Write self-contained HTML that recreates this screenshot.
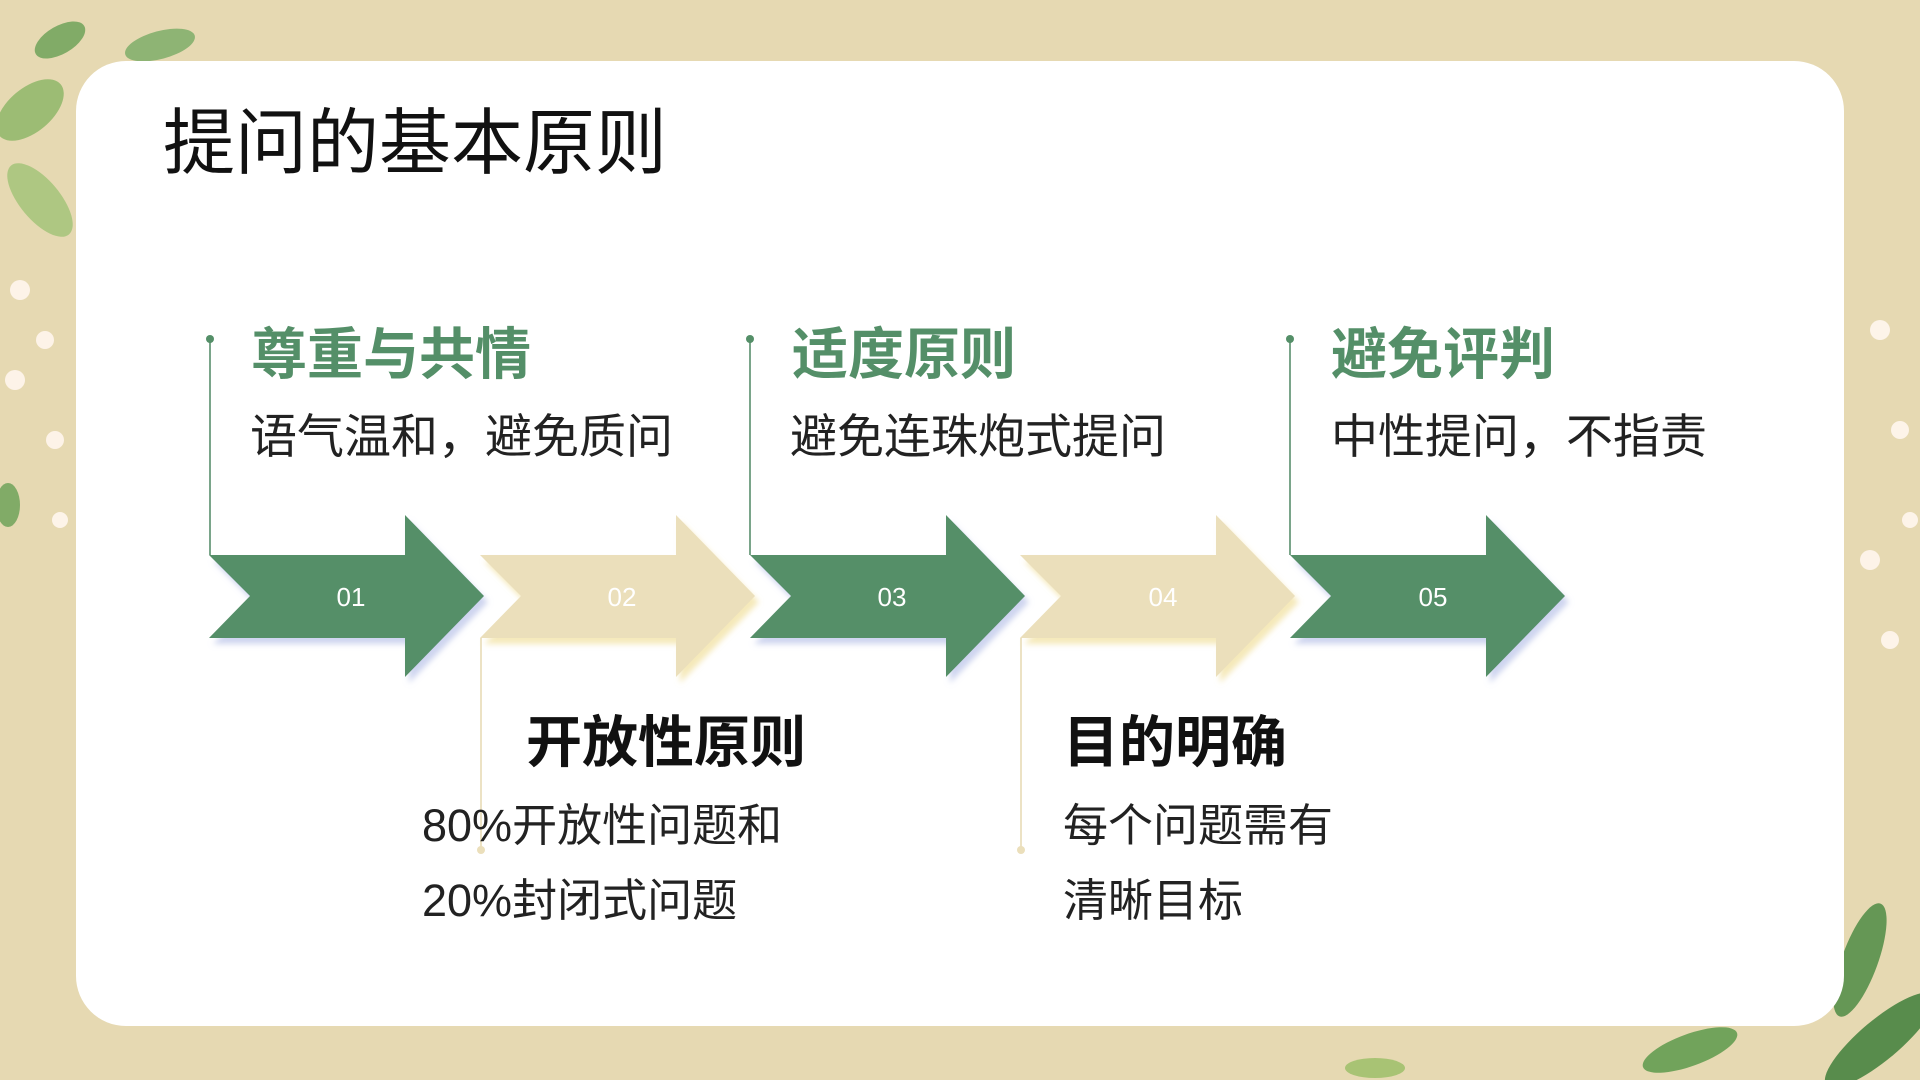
<!DOCTYPE html>
<html><head><meta charset="utf-8"><style>
body{margin:0;width:1920px;height:1080px;overflow:hidden;background:#e6d9b2;font-family:"Liberation Sans","Noto Sans CJK SC",sans-serif;position:relative}
.card{position:absolute;left:76px;top:61px;width:1768px;height:965px;background:#fff;border-radius:50px}
.t{position:absolute;white-space:nowrap;line-height:1}
.h{color:#548f68;font-weight:bold;font-size:56px}
.s{color:#222;font-size:47px}
.s2{color:#222;font-size:45px}
.b{color:#111;font-weight:bold;font-size:56px}
</style></head><body>
<svg style="position:absolute;left:0;top:0" width="1920" height="1080">
<g opacity="0.85">
<ellipse cx="30" cy="110" rx="40" ry="22" fill="#8fb86a" transform="rotate(-40 30 110)"/>
<ellipse cx="60" cy="40" rx="28" ry="14" fill="#6fa35a" transform="rotate(-30 60 40)"/>
<ellipse cx="160" cy="45" rx="36" ry="14" fill="#7fae6a" transform="rotate(-15 160 45)"/>
<ellipse cx="40" cy="200" rx="45" ry="20" fill="#a5c57a" transform="rotate(50 40 200)"/>
<ellipse cx="1860" cy="960" rx="60" ry="18" fill="#4f8c45" transform="rotate(-70 1860 960)"/>
<ellipse cx="1880" cy="1040" rx="70" ry="20" fill="#3f7f3a" transform="rotate(-40 1880 1040)"/>
<ellipse cx="1690" cy="1050" rx="50" ry="16" fill="#5d9a4c" transform="rotate(-20 1690 1050)"/>
<ellipse cx="1375" cy="1068" rx="30" ry="10" fill="#9dc06a"/>
<ellipse cx="8" cy="505" rx="12" ry="22" fill="#6fa35a"/>
</g>
<g fill="#fff6ee" opacity="0.9">
<circle cx="20" cy="290" r="10"/><circle cx="45" cy="340" r="9"/><circle cx="15" cy="380" r="10"/><circle cx="55" cy="440" r="9"/><circle cx="60" cy="520" r="8"/>
<circle cx="1880" cy="330" r="10"/><circle cx="1900" cy="430" r="9"/><circle cx="1870" cy="560" r="10"/><circle cx="1890" cy="640" r="9"/><circle cx="1910" cy="520" r="8"/>
</g>
</svg>
<div class="card"></div>
<div class="t" style="left:163px;top:108px;font-size:72px;color:#111">提问的基本原则</div>
<svg style="position:absolute;left:0;top:0" width="1920" height="1080">
<defs><filter id="sh" x="-10%" y="-10%" width="130%" height="130%"><feDropShadow dx="4" dy="6" stdDeviation="3" flood-color="#b9c2e8" flood-opacity="0.7"/></filter>
<filter id="sh2" x="-10%" y="-10%" width="130%" height="130%"><feDropShadow dx="4" dy="6" stdDeviation="3" flood-color="#f3e3a8" flood-opacity="0.8"/></filter></defs>
<g font-family="Liberation Sans" font-size="26" text-anchor="middle" fill="#fff">
<polygon filter="url(#sh)" fill="#548f68" points="209,555 405,555 405,515 484,596 405,677 405,638 209,638 250,596"/>
<text x="351" y="606">01</text>
<polygon filter="url(#sh2)" fill="#ebdfbb" points="480,555 676,555 676,515 755,596 676,677 676,638 480,638 521,596"/>
<text x="622" y="606">02</text>
<polygon filter="url(#sh)" fill="#548f68" points="750,555 946,555 946,515 1025,596 946,677 946,638 750,638 791,596"/>
<text x="892" y="606">03</text>
<polygon filter="url(#sh2)" fill="#ebdfbb" points="1020,555 1216,555 1216,515 1295,596 1216,677 1216,638 1020,638 1061,596"/>
<text x="1163" y="606">04</text>
<polygon filter="url(#sh)" fill="#548f68" points="1290,555 1486,555 1486,515 1565,596 1486,677 1486,638 1290,638 1331,596"/>
<text x="1433" y="606">05</text>
</g>
<g stroke-width="2">
<line x1="210" y1="339" x2="210" y2="555" stroke="#7aa58a"/>
<line x1="750" y1="339" x2="750" y2="555" stroke="#7aa58a"/>
<line x1="1290" y1="339" x2="1290" y2="555" stroke="#7aa58a"/>
<line x1="481" y1="638" x2="481" y2="849" stroke="#ece2c4"/>
<line x1="1021" y1="638" x2="1021" y2="849" stroke="#ece2c4"/>
</g>
<circle cx="210" cy="339" r="4" fill="#548f68"/><circle cx="750" cy="339" r="4" fill="#548f68"/><circle cx="1290" cy="339" r="4" fill="#548f68"/>
<circle cx="481" cy="850" r="4" fill="#ebdfbb"/><circle cx="1021" cy="850" r="4" fill="#ebdfbb"/>
</svg>
<div class="t h" style="left:251px;top:327px">尊重与共情</div>
<div class="t s" style="left:250px;top:413px">语气温和，避免质问</div>
<div class="t h" style="left:792px;top:327px">适度原则</div>
<div class="t s" style="left:790px;top:413px">避免连珠炮式提问</div>
<div class="t h" style="left:1331px;top:327px">避免评判</div>
<div class="t s" style="left:1331px;top:413px">中性提问，不指责</div>
<div class="t b" style="left:526px;top:715px">开放性原则</div>
<div class="t s2" style="left:422px;top:803px">80%开放性问题和</div>
<div class="t s2" style="left:422px;top:878px">20%封闭式问题</div>
<div class="t b" style="left:1063px;top:715px">目的明确</div>
<div class="t s2" style="left:1063px;top:803px">每个问题需有</div>
<div class="t s2" style="left:1063px;top:878px">清晰目标</div>
</body></html>
